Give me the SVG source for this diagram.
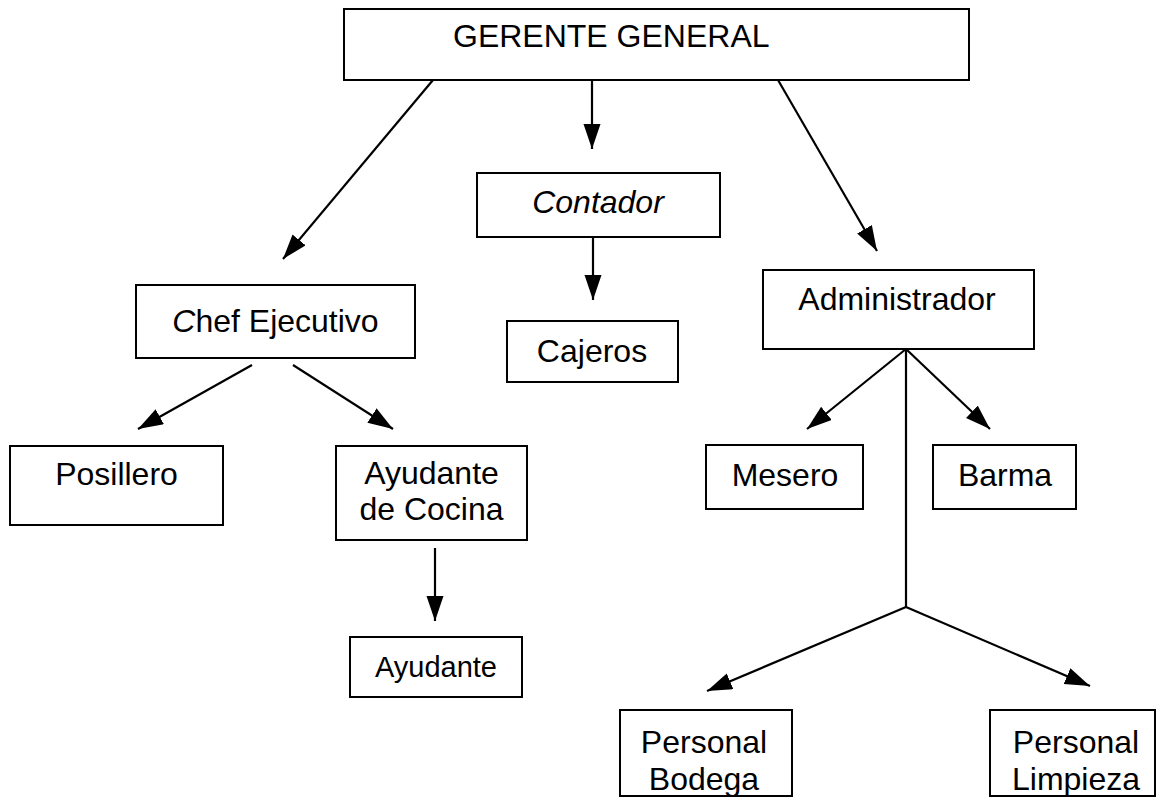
<svg xmlns="http://www.w3.org/2000/svg" width="1159" height="798" viewBox="0 0 1159 798">
<defs>
<marker id="arr" markerUnits="userSpaceOnUse" markerWidth="26" markerHeight="18" refX="25" refY="8.5" orient="auto">
<path d="M0,0 L25,8.5 L0,17 z" fill="#000"/>
</marker>
<style>
rect{fill:#fff;stroke:#000;stroke-width:2}
text{font-family:"Liberation Sans",Arial,sans-serif;font-size:32px;fill:#000}
.c{text-anchor:middle}
.ln{stroke:#000;stroke-width:2.2;fill:none}
.ar{marker-end:url(#arr)}
</style>
</defs>
<rect x="0" y="0" width="1159" height="798" style="fill:#fff;stroke:none"/>
<g id="connectors">
<line class="ln ar" x1="433" y1="80" x2="283" y2="259"/>
<line class="ln ar" x1="592" y1="80" x2="592" y2="149"/>
<line class="ln ar" x1="778" y1="80" x2="877" y2="251"/>
<line class="ln ar" x1="593" y1="228" x2="593" y2="300"/>
<line class="ln ar" x1="252" y1="365" x2="138" y2="429"/>
<line class="ln ar" x1="293" y1="365" x2="393" y2="429"/>
<line class="ln ar" x1="435" y1="548" x2="435" y2="621"/>
<line class="ln ar" x1="906" y1="349" x2="807" y2="429"/>
<line class="ln ar" x1="906" y1="349" x2="990" y2="429"/>
<line class="ln" x1="906" y1="349" x2="906" y2="607"/>
<line class="ln ar" x1="906" y1="607" x2="707" y2="691"/>
<line class="ln ar" x1="906" y1="607" x2="1090" y2="686"/>
</g>
<g id="gerente">
<rect x="344" y="9" width="625" height="71"/>
<text x="453" y="47">GERENTE GENERAL</text>
</g>
<g id="contador">
<rect x="477" y="173" width="243" height="64"/>
<text class="c" x="598" y="213" font-style="italic">Contador</text>
</g>
<g id="cajeros">
<rect x="507" y="321" width="171" height="61"/>
<text class="c" x="592" y="362">Cajeros</text>
</g>
<g id="chef">
<rect x="136" y="285" width="279" height="73"/>
<text class="c" x="275.5" y="332"><tspan font-style="italic">C</tspan>hef Ejecutivo</text>
</g>
<g id="posillero">
<rect x="10" y="446" width="213" height="79"/>
<text class="c" x="116.5" y="485">Posillero</text>
</g>
<g id="ayudante-cocina">
<rect x="336" y="446" width="191" height="94"/>
<text class="c" x="431.5" y="484">Ayudante</text>
<text class="c" x="431.5" y="520">de Cocina</text>
</g>
<g id="ayudante">
<rect x="350" y="637" width="172" height="60"/>
<text class="c" x="436" y="677" style="font-size:29px">Ayudante</text>
</g>
<g id="administrador">
<rect x="763" y="270" width="271" height="79"/>
<text class="c" x="897" y="310">Administrador</text>
</g>
<g id="mesero">
<rect x="706" y="445" width="157" height="64"/>
<text class="c" x="785" y="486">Mesero</text>
</g>
<g id="barma">
<rect x="933" y="445" width="143" height="64"/>
<text class="c" x="1005" y="486">Barma</text>
</g>
<g id="personal-bodega">
<rect x="620" y="710" width="172" height="86"/>
<text class="c" x="704" y="753">Personal</text>
<text class="c" x="704" y="790">Bodega</text>
</g>
<g id="personal-limpieza">
<rect x="990" y="710" width="165" height="86"/>
<text class="c" x="1076" y="753">Personal</text>
<text class="c" x="1076" y="790">Limpieza</text>
</g>
</svg>
